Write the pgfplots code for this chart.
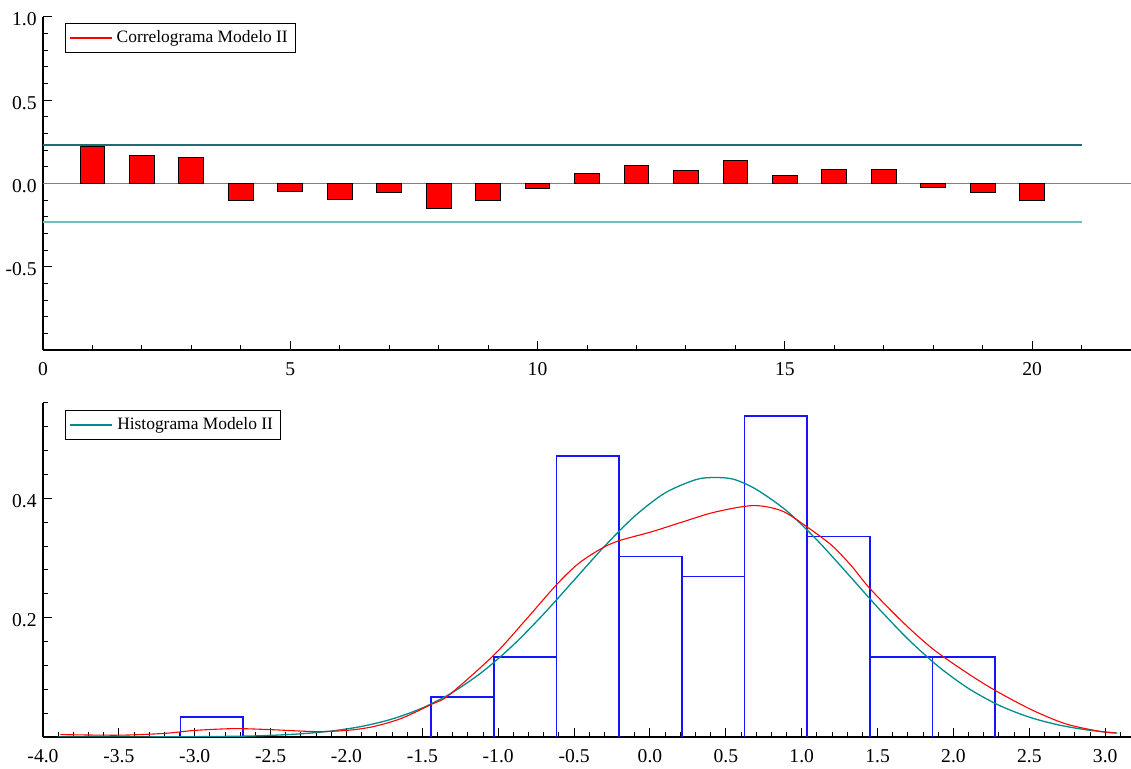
\documentclass[border=0pt]{standalone}
\usepackage{fontspec}
\setmainfont{Liberation Serif}
\usepackage{pgfplots}
\pgfplotsset{compat=1.18}
\definecolor{tealc}{RGB}{0,140,140}
\definecolor{bandhi}{RGB}{30,110,110}
\definecolor{bandlo}{RGB}{110,190,190}
\definecolor{histblue}{RGB}{20,20,255}

\pgfplotsset{
  gvstyle/.style={
    scale only axis, width=544pt,
    axis x line=bottom, axis y line=left,
    axis line style={-, line width=0.6pt},
    every outer x axis line/.append style={-},
    every outer y axis line/.append style={-},
    tick align=inside, major tick length=4.5pt, minor tick length=2.5pt,
    tick style={black, line width=0.5pt},
    tick label style={font=\fontsize{9.8}{10}\selectfont, inner sep=0pt},
    xticklabel style={anchor=north, yshift=-6.2pt},
    yticklabel style={anchor=east, xshift=-3pt, yshift=-1.2pt},
    /pgf/number format/assume math mode=true,
    legend cell align=left,
    legend style={font=\fontsize{8.7}{9}\selectfont, draw=black, line width=0.5pt,
      at={(rel axis cs:0,1)}, anchor=north west, xshift=11pt, yshift=-3pt,
      inner xsep=2pt, inner ysep=1.5pt},
    legend image code/.code={\draw[#1] (0pt,0pt) -- (21pt,0pt);},
  },
  hbar/.style={draw=histblue, line width=0.9pt, forget plot},
}

\begin{document}
\begin{tikzpicture}
% correlogram
\begin{axis}[gvstyle, name=top, height=166.5pt,
  xmin=0, xmax=22, ymin=-1, ymax=1,
  xtick={0,5,10,15,20}, minor xtick={1,...,21},
  ytick={-0.5,0,0.5,1}, minor ytick={-0.9,-0.8,...,0.95},
  yticklabel style={/pgf/number format/.cd, fixed, fixed zerofill, precision=1}]
  \addlegendimage{red, line width=0.6pt}
  \addlegendentry{Correlograma Modelo II}
  \addplot[gray, line width=0.5pt, forget plot] coordinates {(0,0) (22,0)};
  \addplot[draw=bandhi, line width=0.7pt, forget plot] coordinates {(0,0.23) (21,0.23)};
  \addplot[draw=bandlo, line width=0.9pt, forget plot] coordinates {(0,-0.23) (21,-0.23)};
  \addplot[ybar, bar width=0.5, fill=red, draw=black, line width=0.5pt, forget plot] coordinates {
    (1,0.223) (2,0.170) (3,0.157) (4,-0.100) (5,-0.048)
    (6,-0.098) (7,-0.056) (8,-0.153) (9,-0.102) (10,-0.032)
    (11,0.060) (12,0.108) (13,0.078) (14,0.137) (15,0.046)
    (16,0.084) (17,0.086) (18,-0.022) (19,-0.056) (20,-0.102)
  };
\end{axis}
% histogram and densities
\begin{axis}[gvstyle, name=bot, height=167pt,
  at={(top.south west)}, anchor=north west, yshift=-26.5pt,
  legend style={yshift=-0.5pt},
  xmin=-4, xmax=3.17, ymin=0, ymax=0.56,
  xtick={-4,-3.5,...,3}, minor xtick={-3.9,-3.8,...,3.12},
  ytick={0.2,0.4}, minor ytick={0.04,0.08,...,0.57},
  xticklabel style={/pgf/number format/.cd, fixed, fixed zerofill, precision=1},
  yticklabel style={/pgf/number format/.cd, fixed, fixed zerofill, precision=1}]
  \addlegendimage{draw=tealc, line width=0.9pt}
  \addlegendentry{Histograma Modelo II}
  % histogram bins (edges, density)
  \addplot[hbar] coordinates {(-3.094,0) (-3.094,0.0336) (-2.681,0.0336) (-2.681,0)};
  \addplot[hbar] coordinates {(-1.442,0) (-1.442,0.0673) (-1.029,0.0673) (-1.029,0)};
  \addplot[hbar] coordinates {(-1.029,0) (-1.029,0.1345) (-0.616,0.1345) (-0.616,0)};
  \addplot[hbar] coordinates {(-0.616,0) (-0.616,0.4708) (-0.203,0.4708) (-0.203,0)};
  \addplot[hbar] coordinates {(-0.203,0) (-0.203,0.3027) (0.210,0.3027) (0.210,0)};
  \addplot[hbar] coordinates {(0.210,0) (0.210,0.2690) (0.623,0.2690) (0.623,0)};
  \addplot[hbar] coordinates {(0.623,0) (0.623,0.5381) (1.036,0.5381) (1.036,0)};
  \addplot[hbar] coordinates {(1.036,0) (1.036,0.3363) (1.449,0.3363) (1.449,0)};
  \addplot[hbar] coordinates {(1.449,0) (1.449,0.1345) (1.862,0.1345) (1.862,0)};
  \addplot[hbar] coordinates {(1.862,0) (1.862,0.1345) (2.275,0.1345) (2.275,0)};
  \addplot[draw=tealc, line width=0.65pt, smooth, forget plot] coordinates {
    (-3.9,0.0000) (-3.5,0.00005) (-3.1,0.0003) (-2.7,0.0013) (-2.5,0.0027)
    (-2.3,0.0053) (-2.1,0.0100) (-1.9,0.0177) (-1.7,0.0301) (-1.5,0.0486)
    (-1.3,0.0749) (-1.1,0.1101) (-0.9,0.1544) (-0.7,0.2064) (-0.5,0.2630)
    (-0.3,0.3196) (-0.1,0.3704) (0.1,0.4093) (0.3,0.4313) (0.42,0.4350)
    (0.55,0.4322) (0.7,0.4152) (0.9,0.3793) (1.1,0.3304) (1.3,0.2745)
    (1.5,0.2174) (1.7,0.1642) (1.9,0.1183) (2.1,0.0812) (2.3,0.0532)
    (2.5,0.0332) (2.7,0.0198) (2.9,0.0112) (3.08,0.0065)
  };
  \addplot[red, line width=0.55pt, smooth, forget plot] coordinates {
    (-3.885,0.004) (-3.5,0.003) (-3.2,0.006) (-3.0,0.011) (-2.74,0.014)
    (-2.5,0.0123) (-2.2,0.009) (-2.0,0.011) (-1.83,0.017) (-1.64,0.031)
    (-1.438,0.055) (-1.326,0.070) (-1.03,0.137) (-0.82,0.196) (-0.617,0.255)
    (-0.47,0.291) (-0.32,0.316) (-0.205,0.329) (0.01,0.344) (0.208,0.360)
    (0.427,0.377) (0.68,0.388) (0.87,0.379) (1.036,0.352) (1.199,0.321)
    (1.327,0.287) (1.449,0.249) (1.66,0.194) (1.862,0.148) (2.08,0.109)
    (2.275,0.078) (2.52,0.045) (2.74,0.022) (2.96,0.0096) (3.07,0.0067)
  };
\end{axis}
\pgfresetboundingbox
\path[use as bounding box] (top.north west) ++(-21.5pt,8.5pt) rectangle ++(565.5pt,-384.5pt);
\end{tikzpicture}
\end{document}
